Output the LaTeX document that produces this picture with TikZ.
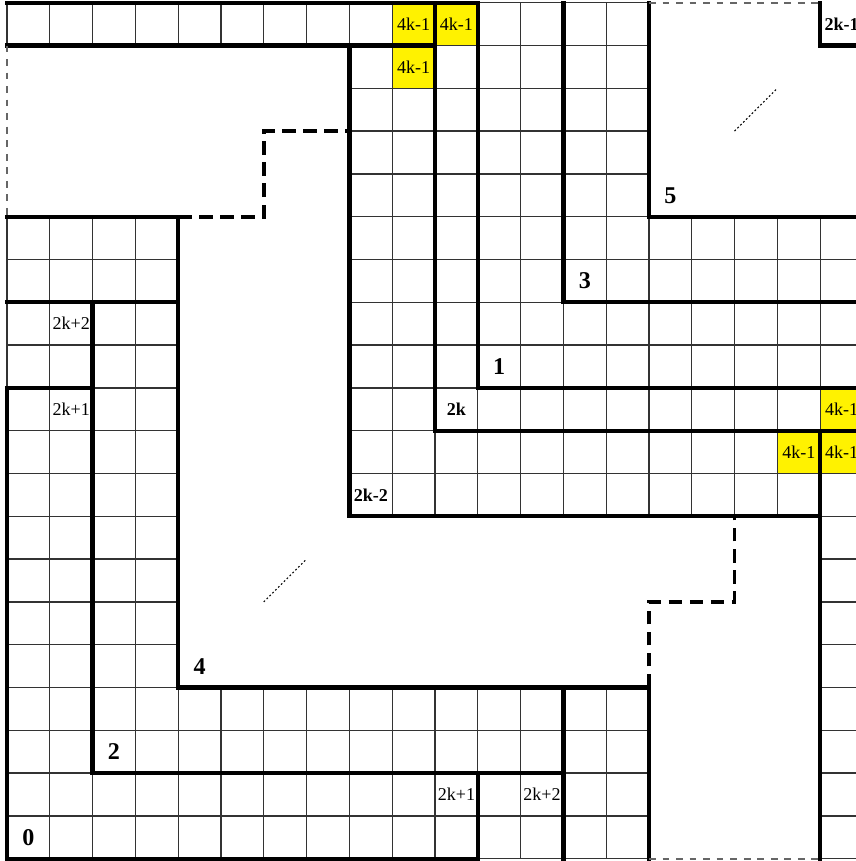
\documentclass[tikz,border=0pt]{standalone}
\usepackage{fontspec}
\setmainfont{Liberation Serif}
\begin{document}
\begin{tikzpicture}[x=1cm,y=-1cm,
  gridline/.style={draw=black!80, line width=0.85pt},
  wall/.style={line width=2.9pt, line cap=rect, line join=miter},
  wallgap/.style={line width=2.4pt, dash pattern=on 9pt off 5pt},
  edgegap/.style={draw=black!60, line width=1.1pt, dash pattern=on 4.5pt off 4.5pt},
  dots/.style={line width=0.7pt, dash pattern=on 1.2pt off 1.5pt},
  big/.style={font=\fontsize{16}{18}\selectfont\bfseries, inner sep=0pt},
  mid/.style={font=\fontsize{12}{14}\selectfont\bfseries, inner sep=0pt},
  small/.style={font=\fontsize{12}{14}\selectfont, inner sep=0pt},
  hl/.style={fill=yellow}]
\useasboundingbox (-0.1636,-0.063) rectangle (19.836,20.054);
\clip (-0.1636,-0.063) rectangle (19.836,20.054);
% yellow cells
\fill[hl] (9,0) rectangle (11,1);
\fill[hl] (9,1) rectangle (10,2);
\fill[hl] (19,9) rectangle (20,11);
\fill[hl] (18,10) rectangle (19,11);
% thin grid
\draw[gridline] (0,0) grid (15,1);
\draw[gridline] (8,1) grid (15,5);
\draw[gridline] (8,5) grid (20,12);
\draw[gridline] (0,5) grid (4,20);
\draw[gridline] (0,16) grid (15,20);
\draw[gridline] (19,12) grid (20,20);
% thick walls, upper right
\draw[wall] (0,0) -- (11,0);
\draw[wall] (0,1) -- (10,1);
\draw[wall] (10,0) -- (10,10) -- (20,10);
\draw[wall] (11,0) -- (11,9) -- (20,9);
\draw[wall] (13,0) -- (13,7) -- (20,7);
\draw[wall] (15,0) -- (15,5) -- (20,5);
\draw[wall] (19,0) -- (19,1) -- (20,1);
\draw[wall] (8,1) -- (8,12) -- (19,12);
\draw[wall] (19,10) -- (19,20);
% thick walls, lower left
\draw[wall] (0,9) -- (0,20) -- (11,20);
\draw[wall] (0,9) -- (2,9);
\draw[wall] (2,7) -- (2,18) -- (13,18);
\draw[wall] (11,18) -- (11,20);
\draw[wall] (0,7) -- (4,7);
\draw[wall] (13,16) -- (13,20);
\draw[wall] (0,5) -- (4,5);
\draw[wall] (4,5) -- (4,16) -- (15,16) -- (15,20);
% dashed boundaries
\draw[wallgap] (4,5) -- (6,5) -- (6,3) -- (8,3);
\draw[wallgap] (15,16) -- (15,14) -- (17,14) -- (17,12);
\draw[edgegap] (0,1) -- (0,5);
\draw[edgegap] (15,20) -- (19,20);
\draw[edgegap] (15,0) -- (19,0);
% dotted continuation marks
\draw[dots] (6,14) -- (7,13);
\draw[dots] (17,3) -- (18,2);
% labels
\node[big] (n0) at (0.5,19.5) {0};
\node[big] (n2) at (2.5,17.5) {2};
\node[big] (n4) at (4.5,15.5) {4};
\node[big] (n1) at (11.5,8.5) {1};
\node[big] (n3) at (13.5,6.5) {3};
\node[big] (n5) at (15.5,4.5) {5};
\node[mid] (m2km2) at (8.5,11.5) {2k-2};
\node[mid] (m2k) at (10.5,9.5) {2k};
\node[mid] (m2km1) at (19.5,0.5) {2k-1};
\node[small] (a1) at (1.5,7.5) {2k+2};
\node[small] (a2) at (1.5,9.5) {2k+1};
\node[small] (a3) at (10.5,18.5) {2k+1};
\node[small] (a4) at (12.5,18.5) {2k+2};
\node[small] (y1) at (9.5,0.5) {4k-1};
\node[small] (y2) at (10.5,0.5) {4k-1};
\node[small] (y3) at (9.5,1.5) {4k-1};
\node[small] (y4) at (19.5,9.5) {4k-1};
\node[small] (y5) at (19.5,10.5) {4k-1};
\node[small] (y6) at (18.5,10.5) {4k-1};
\end{tikzpicture}
\end{document}
